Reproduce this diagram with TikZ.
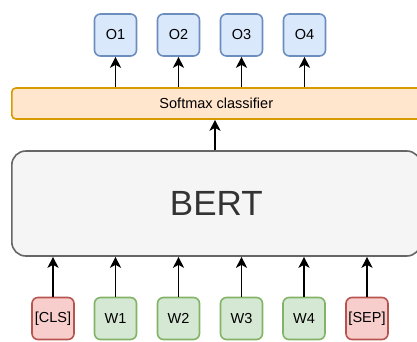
\documentclass[tikz,border=0pt]{standalone}
\usepackage{fontspec}
\setmainfont{Liberation Sans}
\usetikzlibrary{arrows.meta}
\definecolor{bluefill}{HTML}{DAE8FC}
\definecolor{bluedraw}{HTML}{6C8EBF}
\definecolor{orangefill}{HTML}{FFE6CC}
\definecolor{orangedraw}{HTML}{D79B00}
\definecolor{grayfill}{HTML}{F5F5F5}
\definecolor{graydraw}{HTML}{666666}
\definecolor{graytext}{HTML}{333333}
\definecolor{greenfill}{HTML}{D5E8D4}
\definecolor{greendraw}{HTML}{82B366}
\definecolor{redfill}{HTML}{F8CECC}
\definecolor{reddraw}{HTML}{B85450}
\tikzset{
  tok/.style={draw, line width=1.6pt, rounded corners=6pt, minimum width=42pt, minimum height=42pt, inner sep=0pt, font=\fontsize{14.5}{16}\selectfont},
  outbox/.style={tok, fill=bluefill, draw=bluedraw},
  wordbox/.style={tok, fill=greenfill, draw=greendraw},
  specbox/.style={tok, fill=redfill, draw=reddraw},
  arr/.style={-{Stealth[length=11pt,width=11pt,inset=3pt]}, line width=1.8pt, black},
}
\begin{document}
\begin{tikzpicture}[x=1pt,y=-1pt]
\useasboundingbox (0,0) rectangle (417,341);
% outputs
\node[outbox] (o1) at (115.5,35) {O1};
\node[outbox] (o2) at (178.5,35) {O2};
\node[outbox] (o3) at (241.5,35) {O3};
\node[outbox] (o4) at (304.5,35) {O4};
% softmax
\node[draw=orangedraw, fill=orangefill, line width=1.6pt, rounded corners=4pt, minimum width=409pt, minimum height=31pt, inner sep=0pt, font=\fontsize{14.5}{16}\selectfont, anchor=west] (sm) at (11,103.5) {Softmax classifier};
% BERT
\node[draw=graydraw, fill=grayfill, line width=1.6pt, rounded corners=14pt, minimum width=409pt, minimum height=105pt, inner sep=0pt, text=graytext, font=\fontsize{35}{38}\selectfont, anchor=west] (bert) at (11,203.5) {BERT};
% inputs
\node[specbox] (cls) at (53,318.5) {[CLS]};
\node[wordbox] (w1) at (115.5,318.5) {W1};
\node[wordbox] (w2) at (178.5,318.5) {W2};
\node[wordbox] (w3) at (241.5,318.5) {W3};
\node[wordbox] (w4) at (304,318.5) {W4};
\node[specbox] (sep) at (367,318.5) {[SEP]};
% arrows
\foreach \n in {o1,o2,o3,o4} \draw[arr] (sm.north -| \n) -- (\n.south);
\draw[arr] (bert.north -| 215,0) -- (sm.south -| 215,0);
\foreach \n in {cls,w1,w2,w3,w4,sep} \draw[arr] (\n.north) -- (bert.south -| \n);
\end{tikzpicture}
\end{document}
